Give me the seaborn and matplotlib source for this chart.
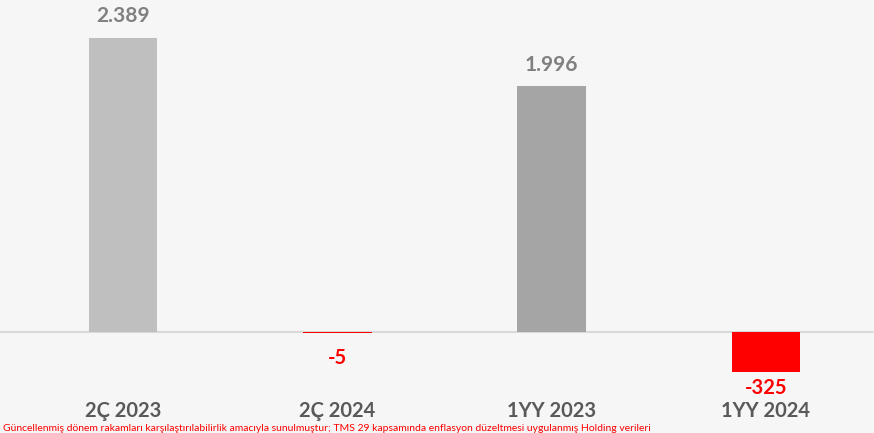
import pandas as pd
import matplotlib.pyplot as plt
import seaborn as sns

# values
periods = ['2Ç 2023', '2Ç 2024', '1YY 2023', '1YY 2024']
values = [2389, -5, 1996, -325]
labels = ['2.389', '-5', '1.996', '-325']
bar_colors = ['#bfbfbf', '#ff0000', '#a5a5a5', '#ff0000']
label_colors = ['#808080', '#ff0000', '#808080', '#ff0000']

df = pd.DataFrame({'period': periods, 'value': values})

sns.set_style('white')
plt.rcParams['font.family'] = ['Lato', 'DejaVu Sans']

fig = plt.figure(figsize=(8.74, 4.33), dpi=100)
fig.patch.set_facecolor('#f6f6f6')
ax = fig.add_axes([16 / 874, 0, 857 / 874, 1])
ax.set_facecolor('#f6f6f6')

sns.barplot(data=df, x='period', y='value', hue='period', palette=bar_colors,
            width=0.32, legend=False, ax=ax, saturation=1, linewidth=0)

ax.set_xlim(-0.5, 3.5)
ax.set_ylim(-821, 2699)
ax.axhline(0, color='#d9d9d9', lw=1.5, xmin=-0.02, zorder=0, clip_on=False)

for i, (v, lab, c) in enumerate(zip(values, labels, label_colors)):
    if v >= 0:
        ax.text(i, v + 95, lab, ha='center', va='bottom', color=c,
                fontsize=15, fontweight='bold')
    else:
        y = v - 45 if v < -100 else -130
        ax.text(i, y, lab, ha='center', va='top', color=c,
                fontsize=14.5, fontweight='bold')
    ax.text(i, -645, periods[i], ha='center', va='center', color='#595959',
            fontsize=14.5, fontweight='bold')

# footnote along the bottom edge
fig.text(0.004, 0.0, 'Güncellenmiş dönem rakamları karşılaştırılabilirlik amacıyla sunulmuştur; '
         'TMS 29 kapsamında enflasyon düzeltmesi uygulanmış Holding verileri',
         color='#ff0000', fontsize=7.5, ha='left', va='bottom')

ax.set_xlabel('')
ax.set_ylabel('')
ax.set_xticks([])
ax.set_yticks([])
sns.despine(ax=ax, left=True, bottom=True)

fig.savefig('out.png', dpi=100, facecolor=fig.get_facecolor())
